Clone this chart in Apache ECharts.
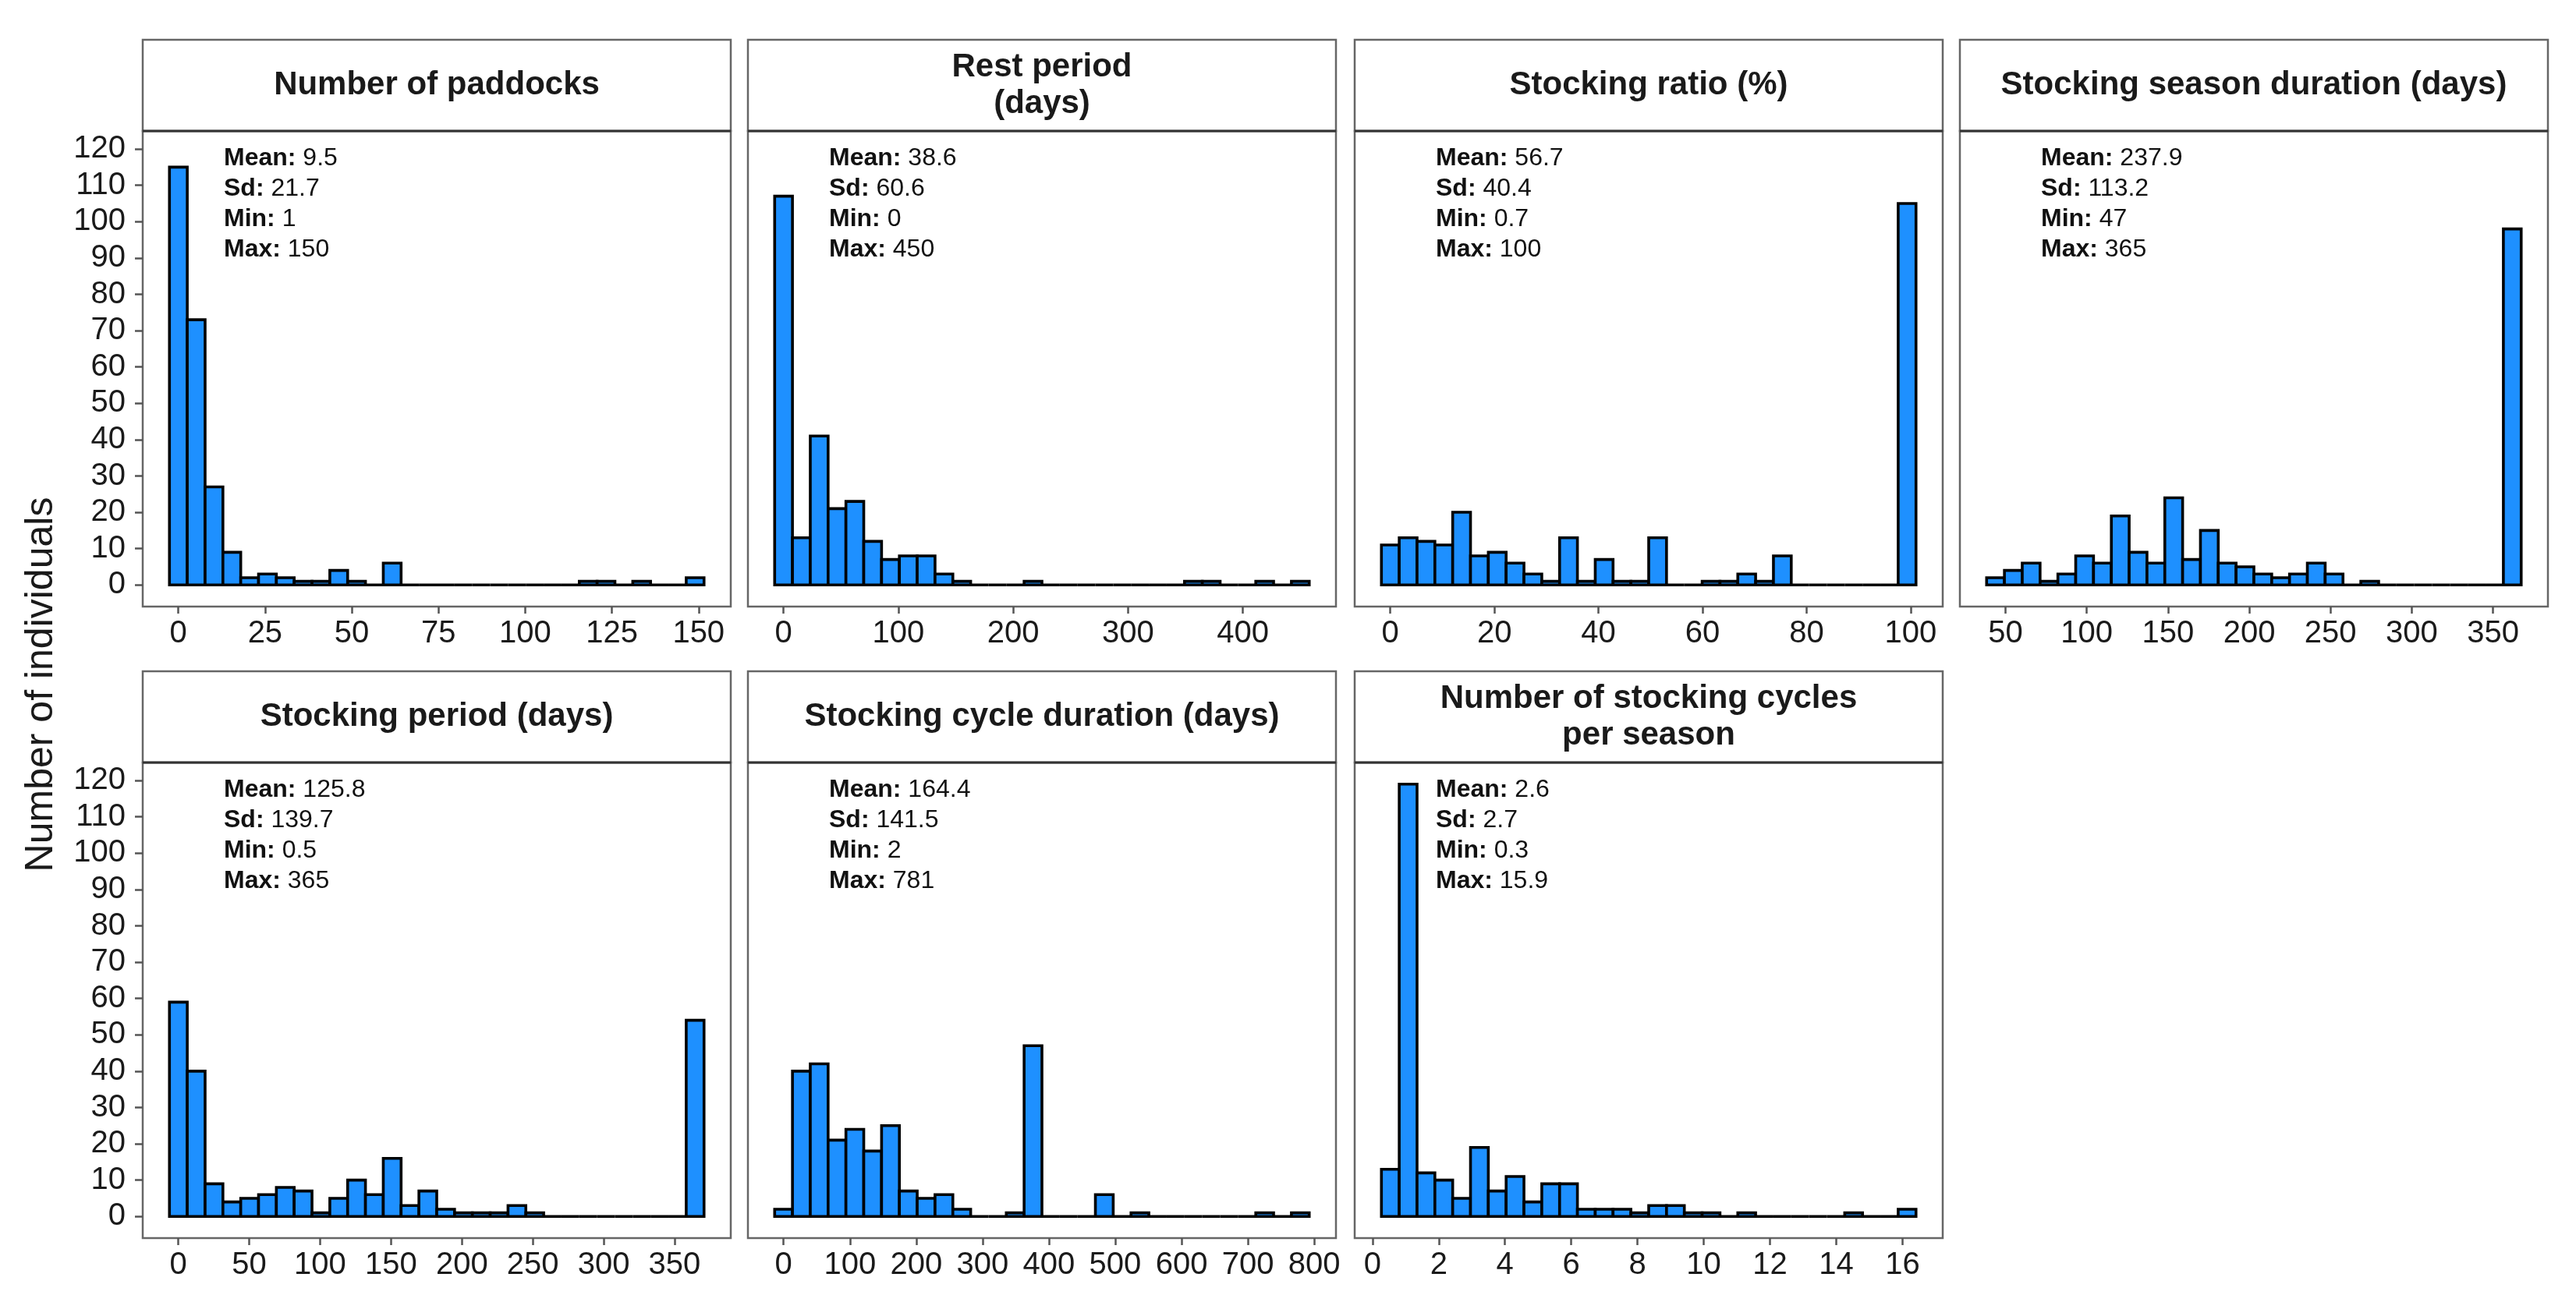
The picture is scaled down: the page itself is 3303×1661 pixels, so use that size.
<!DOCTYPE html>
<html lang="en">
  <head>
    <meta charset="UTF-8" />
    <title>histograms</title>
    <script src="https://cdn.jsdelivr.net/npm/echarts@6/dist/echarts.min.js"></script>
    <style>
      html, body { margin: 0; padding: 0; background: #fff; }
      #chart { width: 3303px; height: 1661px; }
    </style>
  </head>
  <body>
    <div id="chart"></div>
    <script>
      // panel titles
      const titles = [
        'Number of paddocks',
        'Rest period\n(days)',
        'Stocking ratio (%)',
        'Stocking season duration (days)',
        'Stocking period (days)',
        'Stocking cycle duration (days)',
        'Number of stocking cycles\nper season'
      ]

      // counts per bin (30 bins per panel)
      const paddocks = [115, 73, 27, 9, 2, 3, 2, 1, 1, 4, 1, 0, 6, 0, 0, 0, 0, 0, 0, 0, 0, 0, 0, 1, 1, 0, 1, 0, 0, 2]
      const restPeriod = [107, 13, 41, 21, 23, 12, 7, 8, 8, 3, 1, 0, 0, 0, 1, 0, 0, 0, 0, 0, 0, 0, 0, 1, 1, 0, 0, 1, 0, 1]
      const stockingRatio = [11, 13, 12, 11, 20, 8, 9, 6, 3, 1, 13, 1, 7, 1, 1, 13, 0, 0, 1, 1, 3, 1, 8, 0, 0, 0, 0, 0, 0, 105]
      const seasonDuration = [2, 4, 6, 1, 3, 8, 6, 19, 9, 6, 24, 7, 15, 6, 5, 3, 2, 3, 6, 3, 0, 1, 0, 0, 0, 0, 0, 0, 0, 98]
      const stockingPeriod = [59, 40, 9, 4, 5, 6, 8, 7, 1, 5, 10, 6, 16, 3, 7, 2, 1, 1, 1, 3, 1, 0, 0, 0, 0, 0, 0, 0, 0, 54]
      const cycleDuration = [2, 40, 42, 21, 24, 18, 25, 7, 5, 6, 2, 0, 0, 1, 47, 0, 0, 0, 6, 0, 1, 0, 0, 0, 0, 0, 0, 1, 0, 1]
      const cyclesPerSeason = [13, 119, 12, 10, 5, 19, 7, 11, 4, 9, 9, 2, 2, 2, 1, 3, 3, 1, 1, 0, 1, 0, 0, 0, 0, 0, 1, 0, 0, 2]
      const counts = [paddocks, restPeriod, stockingRatio, seasonDuration, stockingPeriod, cycleDuration, cyclesPerSeason]

      // bin width and index of the first bin (bins centred on multiples of the width)
      const binWidth = [149 / 29, 450 / 29, 99.3 / 29, 318 / 29, 364.5 / 29, 779 / 29, 15.6 / 29]
      const firstBin = [0, 0, 0, 4, 0, 0, 1]

      // summary statistics
      const means = ['9.5', '38.6', '56.7', '237.9', '125.8', '164.4', '2.6']
      const sds = ['21.7', '60.6', '40.4', '113.2', '139.7', '141.5', '2.7']
      const mins = ['1', '0', '0.7', '47', '0.5', '2', '0.3']
      const maxs = ['150', '450', '100', '365', '365', '781', '15.9']

      // tick labels
      const xTicks = [
        [0, 25, 50, 75, 100, 125, 150],
        [0, 100, 200, 300, 400],
        [0, 20, 40, 60, 80, 100],
        [50, 100, 150, 200, 250, 300, 350],
        [0, 50, 100, 150, 200, 250, 300, 350],
        [0, 100, 200, 300, 400, 500, 600, 700, 800],
        [0, 2, 4, 6, 8, 10, 12, 14, 16]
      ]
      const yTicks = [0, 10, 20, 30, 40, 50, 60, 70, 80, 90, 100, 110, 120]

      const font = 'Liberation Sans, Arial, sans-serif'
      const colLeft = [183, 959, 1737, 2513]
      const rowTop = [168, 978]
      const panelW = 754
      const panelH = 610
      const stripH = 117

      const yMaxCount = Math.max(...counts.map(c => Math.max(...c)))
      const yMin = -0.05 * yMaxCount
      const yMax = yMaxCount * 1.05

      let grids = [], xAxes = [], yAxes = [], series = [], graphics = []

      counts.forEach((c, i) => {
        const row = i < 4 ? 0 : 1
        const col = i < 4 ? i : i - 4
        const left = colLeft[col]
        const top = rowTop[row]
        const w = binWidth[i]
        const data = c.map((v, j) => {
          const centre = (firstBin[i] + j) * w
          return [centre - w / 2, centre + w / 2, v]
        })
        const lo = data[0][0]
        const hi = data[data.length - 1][1]
        const pad = 0.05 * (hi - lo)

        grids.push({
          left: left, top: top, width: panelW, height: panelH,
          show: true, borderColor: '#666', borderWidth: 2.5, backgroundColor: '#fff'
        })
        xAxes.push({
          type: 'value', gridIndex: i, min: lo - pad, max: hi + pad,
          position: 'bottom',
          axisLine: { show: false, onZero: false },
          splitLine: { show: false },
          axisTick: { show: true, customValues: xTicks[i], length: 9, lineStyle: { color: '#555', width: 2.5 } },
          axisLabel: { customValues: xTicks[i], fontSize: 40, fontFamily: font, color: '#1a1a1a', margin: 15 }
        })
        yAxes.push({
          type: 'value', gridIndex: i, min: yMin, max: yMax,
          position: 'left',
          axisLine: { show: false, onZero: false },
          splitLine: { show: false },
          axisTick: { show: col === 0, customValues: yTicks, length: 10, lineStyle: { color: '#555', width: 2.5 } },
          axisLabel: { show: col === 0, customValues: yTicks, fontSize: 40, fontFamily: font, color: '#1a1a1a', margin: 22 }
        })
        series.push({
          type: 'custom',
          xAxisIndex: i, yAxisIndex: i,
          encode: { x: [0, 1], y: 2 },
          data: data,
          renderItem: (params, api) => {
            const p0 = api.coord([api.value(0), api.value(2)])
            const p1 = api.coord([api.value(1), 0])
            return {
              type: 'rect',
              shape: { x: p0[0], y: p0[1], width: p1[0] - p0[0], height: p1[1] - p0[1] },
              style: { fill: '#1E90FF', stroke: '#000', lineWidth: 3.6 }
            }
          }
        })

        // strip box and title
        graphics.push({
          type: 'rect', z: 10,
          shape: { x: left, y: top - stripH, width: panelW, height: stripH },
          style: { fill: '#fff', stroke: '#666', lineWidth: 2.5 }
        })
        graphics.push({
          type: 'line', z: 11,
          shape: { x1: left, y1: top, x2: left + panelW, y2: top },
          style: { stroke: '#333', lineWidth: 3 }
        })
        graphics.push({
          type: 'text', z: 12, x: left + panelW / 2, y: top - stripH / 2,
          style: {
            text: titles[i], fontFamily: font, fontSize: 42, fontWeight: 'bold',
            fill: '#1a1a1a', align: 'center', verticalAlign: 'middle', lineHeight: 47
          }
        })

        // summary annotations
        const lines = [['Mean:', means[i]], ['Sd:', sds[i]], ['Min:', mins[i]], ['Max:', maxs[i]]]
        lines.forEach((l, k) => {
          graphics.push({
            type: 'text', z: 12, x: left + 104, y: top + 35 + k * 39,
            style: {
              text: '{b|' + l[0] + '} ' + l[1],
              fontFamily: font, fontSize: 32, fill: '#111',
              align: 'left', verticalAlign: 'middle',
              rich: { b: { fontFamily: font, fontSize: 32, fontWeight: 'bold', fill: '#111' } }
            }
          })
        })
      })

      graphics.push({
        type: 'text', x: 53, y: 878, rotation: Math.PI / 2,
        style: {
          text: 'Number of individuals', fontFamily: font, fontSize: 50,
          fill: '#1a1a1a', align: 'center', verticalAlign: 'middle'
        }
      })

      const chart = echarts.init(document.getElementById('chart'))
      chart.setOption({
        animation: false,
        backgroundColor: '#fff',
        grid: grids,
        xAxis: xAxes,
        yAxis: yAxes,
        series: series,
        graphic: graphics
      })
    </script>
  </body>
</html>
